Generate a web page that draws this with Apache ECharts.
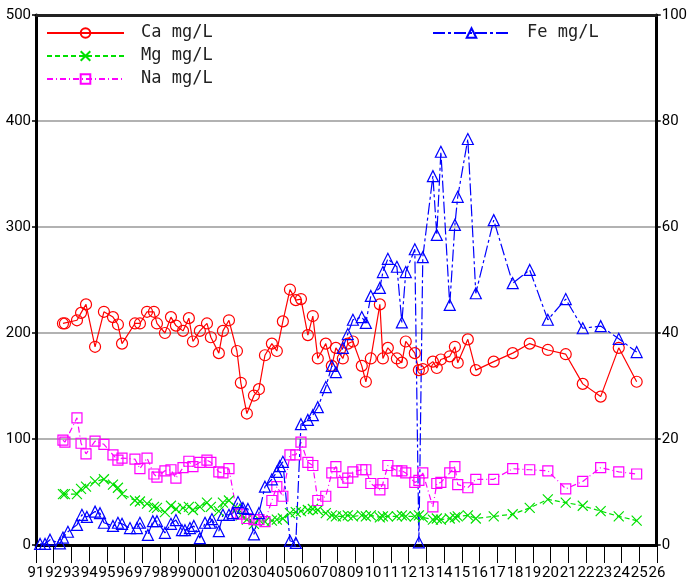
<!DOCTYPE html>
<html>
<head>
<meta charset="utf-8">
<script src="https://cdn.jsdelivr.net/npm/echarts@6/dist/echarts.min.js"></script>
<style>
html,body{margin:0;padding:0;background:#fff;}
#chart{width:690px;height:582px;}
</style>
</head>
<body>
<div id="chart"></div>
<script>
// Sampling dates (decimal years) shared by Ca, Mg, Na
const chemDates = [1992.52,1992.63,1993.31,1993.54,1993.82,1994.33,1994.83,1995.34,1995.62,1995.85,
  1996.58,1996.86,1997.26,1997.65,1997.82,1998.27,1998.61,1998.89,1999.29,1999.62,
  1999.85,2000.24,2000.64,2000.86,2001.31,2001.54,2001.88,2002.33,2002.55,2002.89,
  2003.29,2003.57,2003.91,2004.30,2004.58,2004.92,2005.32,2005.65,2005.94,2006.33,
  2006.61,2006.89,2007.34,2007.68,2007.91,2008.30,2008.58,2008.87,2009.37,2009.60,
  2009.88,2010.39,2010.56,2010.84,2011.35,2011.63,2011.85,2012.36,2012.59,2012.81,
  2013.38,2013.60,2013.83,2014.33,2014.62,2014.78,2015.35,2015.80,2016.81,2017.88,
  2018.84,2019.86,2020.87,2021.83,2022.84,2023.86,2024.87];
const caValues = [209,209,212,219,227,187,220,215,208,190,
  209,209,220,220,209,200,215,207,202,214,
  192,202,209,196,181,202,212,183,153,124,
  141,147,179,190,183,211,241,231,232,198,
  216,176,190,169,186,176,190,192,169,154,
  176,227,176,186,176,172,192,181,165,166,
  173,167,175,178,187,172,194,165,173,181,
  190,184,180,152,140,186,154];
const mgValues = [48,48,48,53,55,60,62,57,54,48,
  42,41,39,36,35,31,37,34,35,36,
  33,36,40,36,32,40,42,35,28,24,
  20,24,22,23,24,25,30,31,32,33,
  34,33,30,28,27,27,28,27,28,27,
  28,26,27,27,27,28,27,27,28,26,
  24,25,24,25,26,27,28,25,27,29,
  35,43,40,37,32,27,23];
const naValues = [99,97,120,96,86,98,95,85,80,82,
  81,72,82,67,64,70,71,63,73,79,
  74,78,80,78,69,68,72,30,29,25,
  24,24,22,42,55,46,85,85,97,78,
  75,42,46,68,74,59,63,69,71,71,
  58,52,58,75,70,70,68,59,61,68,
  36,58,59,68,74,57,54,62,62,72,
  71,70,53,60,73,69,67];
// Fe sampling dates and values (right axis)
const feDates = [1991.23,1991.51,1991.79,1992.35,1992.52,1992.80,1993.31,1993.59,1993.87,1994.33,
  1994.61,1994.83,1995.34,1995.62,1995.85,1996.30,1996.69,1996.86,1997.31,1997.59,
  1997.82,1998.27,1998.61,1998.89,1999.23,1999.40,1999.68,1999.90,2000.24,2000.53,
  2000.81,2000.92,2001.31,2001.54,2001.88,2002.10,2002.39,2002.67,2002.95,2003.29,
  2003.57,2003.91,2004.30,2004.58,2004.75,2004.92,2005.32,2005.65,2005.94,2006.33,
  2006.61,2006.89,2007.34,2007.68,2007.91,2008.30,2008.58,2008.87,2009.37,2009.60,
  2009.88,2010.39,2010.56,2010.84,2011.35,2011.63,2011.85,2012.36,2012.59,2012.81,
  2013.38,2013.60,2013.83,2014.33,2014.62,2014.78,2015.35,2015.80,2016.81,2017.88,
  2018.84,2019.86,2020.87,2021.83,2022.84,2023.86,2024.87];
const feValues = [0.2,0.2,1.0,0.3,1.4,2.5,3.8,5.7,5.3,6.3,
  6.0,4.2,3.6,4.2,4.0,3.2,3.2,4.2,1.9,4.5,
  4.5,2.3,4.0,4.7,2.8,2.8,3.2,3.6,1.3,4.2,
  4.2,4.9,2.6,5.7,5.7,6.0,8.1,7.0,6.8,2.0,
  6.0,11.0,12.4,13.8,14.9,15.7,0.8,0.4,22.8,23.6,
  24.5,26.0,29.8,33.8,32.6,37.2,39.8,42.5,43.0,41.9,
  47.0,48.5,51.5,54.0,52.5,42.0,51.5,55.8,0.5,54.3,
  69.6,58.5,74.2,45.3,60.4,65.7,76.6,47.5,61.3,49.4,
  51.9,42.5,46.4,40.9,41.3,38.9,36.4];
const leftTicks = {min:0, max:500, interval:100};
const rightTicks = {min:0, max:100, interval:20};
const yearRange = {min:1991, max:2026, interval:1};

const pair = (xs, ys) => xs.map((x, i) => [x, ys[i]]);
const tickFont = 'Roboto';
const legendFont = 'DejaVu Sans Mono';
const yearLabel = v => String(Math.round(v) % 100).padStart(2, '0');

function lineSeries(name, data, color, dash, symbol, size, yIdx) {
  return {
    name: name, type: 'line', data: data, xAxisIndex: 0, yAxisIndex: yIdx,
    symbol: symbol, symbolSize: size, showSymbol: true, showAllSymbol: true,
    itemStyle: {color: 'rgba(0,0,0,0)', borderColor: color, borderWidth: 1.2},
    lineStyle: {color: color, width: 1.2, type: dash},
    emphasis: {disabled: true},
    animation: false
  };
}

const legendText = {fontFamily: legendFont, fontSize: 17, lineHeight: 18, color: '#222', padding: [0,0,0,12]};

const chart = echarts.init(document.getElementById('chart'), null, {renderer: 'canvas'});
chart.setOption({
  animation: false,
  grid: [
    {left: 36, right: 33, top: 15, bottom: 37},
    // thin strip under the plot: its vertical split lines form the hanging year ticks
    {left: 36, right: 33, top: 546, height: 17}
  ],
  legend: [
    {data: ['Ca mg/L', 'Mg mg/L', 'Na mg/L'], orient: 'vertical', left: 46, top: 24, padding: 0,
     itemWidth: 77, itemHeight: 12, itemGap: 5, textStyle: legendText},
    {data: ['Fe mg/L'], orient: 'vertical', left: 432, top: 24, padding: 0,
     itemWidth: 77, itemHeight: 12, textStyle: legendText}
  ],
  xAxis: [
    {type: 'value', gridIndex: 0, position: 'bottom', min: yearRange.min, max: yearRange.max, interval: yearRange.interval,
     axisLine: {show: true, onZero: false, lineStyle: {color: '#000', width: 3}},
     axisTick: {show: false},
     axisLabel: {show: false},
     splitLine: {show: false}},
    {type: 'value', gridIndex: 0, position: 'top', min: yearRange.min, max: yearRange.max,
     axisLine: {show: true, onZero: false, lineStyle: {color: '#222', width: 3}},
     axisTick: {show: false}, axisLabel: {show: false}, splitLine: {show: false}},
    {type: 'value', gridIndex: 1, position: 'bottom', min: yearRange.min, max: yearRange.max, interval: yearRange.interval,
     axisLine: {show: false, onZero: false},
     axisTick: {show: false},
     axisLabel: {show: true, color: '#000', fontFamily: tickFont, fontSize: 15, margin: 3,
       showMinLabel: true, showMaxLabel: true, formatter: yearLabel},
     splitLine: {show: true, showMinLine: true, showMaxLine: true, lineStyle: {color: '#000', width: 1}}}
  ],
  yAxis: [
    {type: 'value', gridIndex: 0, position: 'left', min: leftTicks.min, max: leftTicks.max, interval: leftTicks.interval,
     axisLine: {show: true, onZero: false, lineStyle: {color: '#000', width: 3}},
     axisTick: {show: true, length: 4, lineStyle: {color: '#000', width: 1.5}},
     axisLabel: {color: '#000', fontFamily: tickFont, fontSize: 15, margin: 5},
     splitLine: {show: true, lineStyle: {color: '#999', width: 1.5}}},
    {type: 'value', gridIndex: 0, position: 'right', min: rightTicks.min, max: rightTicks.max, interval: rightTicks.interval,
     axisLine: {show: true, onZero: false, lineStyle: {color: '#000', width: 3}},
     axisTick: {show: true, length: 4, lineStyle: {color: '#000', width: 1.5}},
     axisLabel: {color: '#000', fontFamily: tickFont, fontSize: 15, margin: 5},
     splitLine: {show: false}},
    {type: 'value', gridIndex: 1, min: 0, max: 1, show: false,
     axisLine: {show: false}, axisTick: {show: false}, axisLabel: {show: false}, splitLine: {show: false}}
  ],
  series: [
    lineSeries('Ca mg/L', pair(chemDates, caValues), '#ff0000', 'solid', 'circle', 11, 0),
    lineSeries('Mg mg/L', pair(chemDates, mgValues), '#00e000', [5, 3], 'path://M0,0L10,10M0,10L10,0', 10, 0),
    lineSeries('Na mg/L', pair(chemDates, naValues), '#ff00ff', [6, 3, 1, 3], 'rect', 10, 0),
    lineSeries('Fe mg/L', pair(feDates, feValues), '#0000ff', [12, 3, 3, 3], 'triangle', 11, 1),
    {name: 'tickStrip', type: 'line', xAxisIndex: 2, yAxisIndex: 2, data: [], silent: true, showSymbol: false}
  ]
});
</script>
</body>
</html>
